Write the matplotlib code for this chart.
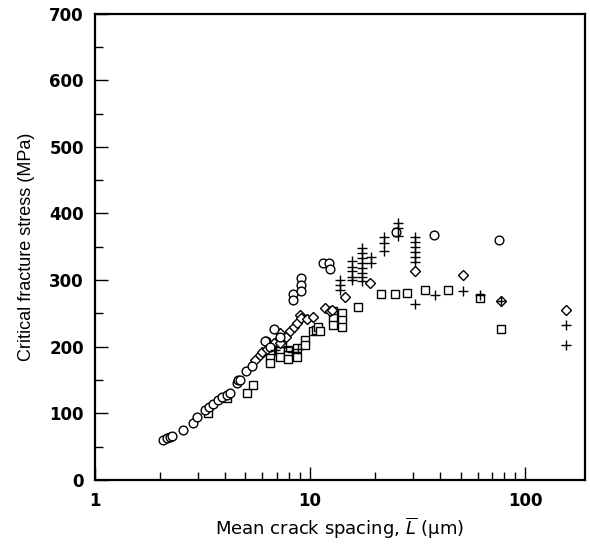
import matplotlib
matplotlib.use("Agg")
import matplotlib.pyplot as plt
from matplotlib.ticker import LogLocator, MultipleLocator, FixedLocator, FixedFormatter

plt.rcParams['font.family'] = ['DejaVu Sans']
plt.rcParams['mathtext.fontset'] = 'dejavusans'

# values
circle_x = [2.08, 2.15, 2.22, 2.27, 2.57, 2.84, 2.97, 3.25, 3.40, 3.55, 3.74, 3.88,
            4.10, 4.24, 4.56, 4.64, 4.73, 5.04, 5.35, 6.22, 6.20, 6.50, 6.80, 7.25,
            8.3, 8.3, 9.1, 9.1, 9.1, 11.5, 12.2, 12.4, 25.0, 37.5, 75.2]
circle_y = [60, 63, 65, 66, 75, 86, 95, 105, 109, 114, 120, 124,
            128, 130, 145, 150, 150, 163, 171, 208, 209, 200, 226, 215,
            279, 270, 303, 293, 283, 325, 326, 316, 372, 368, 360]

diamond_x = [5.54, 5.85, 6.0, 6.3, 6.8, 7.25, 7.25, 7.25, 7.7, 8.07, 8.4, 8.66,
             9.0, 9.1, 9.65, 10.3, 11.7, 12.4, 12.6, 14.5, 19.0, 30.8, 51.3,
             77.1, 155]
diamond_y = [180, 188, 192, 196, 205, 220, 213, 206, 215, 223, 230, 235,
             248, 243, 241, 244, 258, 254, 255, 275, 295, 313, 307,
             269, 255]

plus_x = [6.9, 7.7, 8.2, 8.8,
          13.8, 13.8, 13.8,
          15.6, 15.6, 15.6, 15.6, 15.6,
          17.4, 17.4, 17.4, 17.4, 17.4, 17.4, 17.4, 17.4,
          19.2, 19.2,
          22.1, 22.1, 22.1,
          25.5, 25.5, 25.5,
          30.8, 30.8, 30.8, 30.8, 30.8, 30.8,
          30.8, 38.2, 51.5, 61.8, 77.1, 155, 155]
plus_y = [195, 200, 192, 196,
          300, 292, 285,
          328, 320, 313, 305, 300,
          348, 340, 333, 326, 318, 311, 304, 298,
          335, 325,
          365, 355, 343,
          385, 378, 366,
          365, 357, 350, 342, 335, 327,
          264, 278, 284, 277, 268, 233, 203]

square_x = [3.36, 4.1, 5.08, 5.45, 6.51, 6.51, 6.51, 7.25, 7.25, 7.9, 7.9, 7.9,
            8.66, 8.66, 9.45, 9.45, 10.3, 10.6, 10.9, 11.1, 12.8, 12.8, 12.8,
            14.0, 14.0, 14.0, 16.7, 21.4, 24.9, 28.1, 34.2, 43.9, 61.8, 77.1]
square_y = [100, 123, 130, 143, 190, 183, 175, 193, 185, 195, 188, 181,
            198, 185, 210, 203, 223, 225, 230, 223, 253, 243, 233,
            250, 240, 230, 259, 279, 279, 281, 285, 285, 273, 226]

xtick_vals = [1, 10, 100]
xtick_text = ['1', '10', '100']

fig = plt.figure(figsize=(5.9, 5.49), dpi=100)
ax = fig.add_axes([0.161, 0.126, 0.831, 0.849])

mk = dict(linestyle='none', color='black', markerfacecolor='white',
          markeredgecolor='black', markeredgewidth=1.0)
ax.plot(square_x, square_y, marker='s', markersize=5.8, **mk)
ax.plot(diamond_x, diamond_y, marker='D', markersize=4.8, **mk)
ax.plot(circle_x, circle_y, marker='o', markersize=6.3, **mk)
ax.plot(plus_x, plus_y, marker='+', markersize=7.5, linestyle='none',
        color='black', markeredgewidth=1.0)

ax.set_xscale('log')
ax.set_xlim(1, 190)
ax.set_ylim(0, 700)

ax.xaxis.set_major_locator(FixedLocator(xtick_vals))
ax.xaxis.set_major_formatter(FixedFormatter(xtick_text))
ax.xaxis.set_minor_locator(LogLocator(base=10, subs=range(2, 10)))
ax.xaxis.set_minor_formatter(plt.NullFormatter())
ax.yaxis.set_major_locator(MultipleLocator(100))
ax.yaxis.set_minor_locator(MultipleLocator(50))

ax.tick_params(which='both', direction='in', top=False, right=False, width=1.0)
ax.tick_params(which='major', length=9.5, labelsize=12)
ax.tick_params(which='minor', length=5.5)
ax.tick_params(axis='x', which='major', pad=9)
ax.tick_params(axis='y', which='major', pad=8)
for lab in ax.get_xticklabels() + ax.get_yticklabels():
    lab.set_fontweight('bold')
for s in ax.spines.values():
    s.set_linewidth(1.6)

ax.set_xlabel(r'Mean crack spacing, $\overline{L}$ (μm)', fontsize=13, labelpad=4)
ax.set_ylabel('Critical fracture stress (MPa)', fontsize=13,
              family=['Liberation Sans', 'DejaVu Sans'], labelpad=10)

fig.savefig('out.png', dpi=100)
